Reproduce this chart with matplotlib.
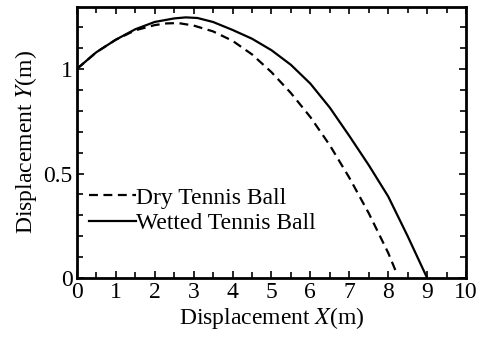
import matplotlib
matplotlib.use("Agg")
import matplotlib.pyplot as plt
from matplotlib.ticker import MultipleLocator

# Trajectory data
dry_x = [0, 0.5, 1.0, 1.5, 2.0, 2.3, 2.6, 3.0, 3.5, 4.0, 4.5, 5.0, 5.5, 6.0, 6.5, 7.0, 7.5, 8.0, 8.2]
dry_y = [1.0, 1.08, 1.14, 1.185, 1.21, 1.218, 1.22, 1.208, 1.18, 1.135, 1.07, 0.985, 0.885, 0.77, 0.635, 0.48, 0.31, 0.12, 0.03]

wet_x = [0, 0.5, 1.0, 1.5, 2.0, 2.5, 2.8, 3.1, 3.5, 4.0, 4.5, 5.0, 5.5, 6.0, 6.5, 7.0, 7.5, 8.0, 8.5, 9.0]
wet_y = [1.0, 1.08, 1.14, 1.19, 1.225, 1.242, 1.247, 1.244, 1.225, 1.187, 1.145, 1.09, 1.02, 0.93, 0.815, 0.68, 0.54, 0.39, 0.2, 0.0]

x_ticks = list(range(0, 11))
y_ticks = [0, 0.5, 1]
y_tick_labels = ["0", "0.5", "1"]

plt.rcParams['font.family'] = ['Liberation Serif', 'DejaVu Serif']
plt.rcParams['mathtext.fontset'] = 'stix'

fig = plt.figure(figsize=(4.8, 3.38), dpi=100)
ax = fig.add_axes([0.160, 0.1775, 0.811, 0.802])

ax.plot(dry_x, dry_y, color='black', lw=1.6, linestyle=(0, (4, 2.5)), label="Dry Tennis Ball")
ax.plot(wet_x, wet_y, color='black', lw=1.6, label="Wetted Tennis Ball")

ax.set_xlim(0, 10)
ax.set_ylim(0, 1.297)
ax.set_xticks(x_ticks)
ax.set_yticks(y_ticks)
ax.set_yticklabels(y_tick_labels)
ax.xaxis.set_minor_locator(MultipleLocator(0.5))
ax.yaxis.set_minor_locator(MultipleLocator(0.1))
ax.tick_params(which='both', direction='in', top=True, right=True, labelsize=17, width=1.2)
ax.tick_params(which='major', length=5, pad=3)
ax.tick_params(which='minor', length=4)
for s in ax.spines.values():
    s.set_linewidth(2)

ax.set_xlabel("Displacement $X$(m)", fontsize=17, labelpad=1)
ax.set_ylabel("Displacement $Y$(m)", fontsize=17, labelpad=3)

ax.legend(loc='upper left', bbox_to_anchor=(0.032, 0.335), frameon=False, fontsize=17,
          handlelength=2.0, handletextpad=0.0, borderaxespad=0.0, borderpad=0.0,
          labelspacing=0.15)

fig.savefig("out.png", dpi=100)
